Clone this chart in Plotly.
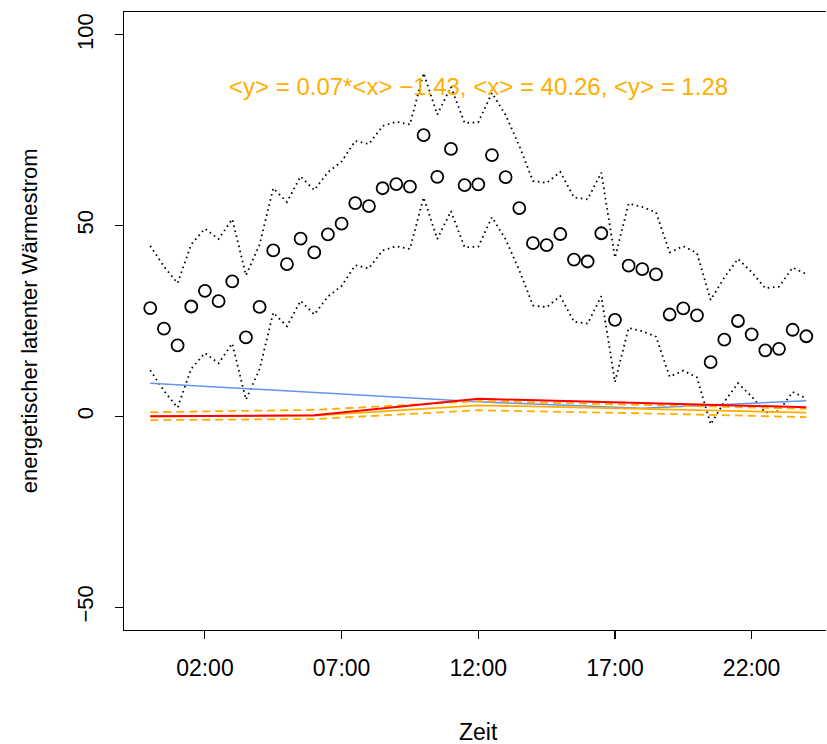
import plotly.graph_objects as go

# half-hour time steps (hours)
hours = [i * 0.5 for i in range(49)]

values = [28.4, 23.0, 18.6, 28.8, 32.9, 30.2, 35.4, 20.7, 28.7, 43.5, 39.9, 46.6, 43.0,
          47.7, 50.5, 55.9, 55.1, 59.8, 60.9, 60.2, 73.7, 62.8, 70.1, 60.6, 60.8, 68.5,
          62.7, 54.6, 45.4, 44.9, 47.8, 41.1, 40.6, 48.0, 25.3, 39.5, 38.6, 37.2, 26.7,
          28.3, 26.5, 14.2, 20.1, 25.0, 21.5, 17.3, 17.7, 22.7, 21.0]

upper = [44.7, 39.3, 34.9, 45.1, 49.2, 46.5, 51.7, 37.0, 45.0, 59.8, 56.2, 62.9, 59.3,
         64.0, 66.8, 72.2, 71.4, 76.1, 77.2, 76.5, 90.0, 79.1, 86.4, 76.9, 77.1, 84.8,
         79.0, 70.9, 61.7, 61.2, 64.1, 57.4, 56.9, 63.9, 41.6, 55.8, 54.9, 53.5, 43.0,
         44.6, 42.8, 30.5, 36.4, 41.3, 37.8, 33.6, 34.0, 39.0, 37.3]

lower = [12.1, 6.7, 2.3, 12.5, 16.6, 13.9, 19.1, 4.4, 12.4, 27.2, 23.6, 30.3, 26.7,
         31.4, 34.2, 39.6, 38.8, 43.5, 44.6, 43.9, 57.4, 46.5, 53.8, 44.3, 44.5, 52.2,
         46.4, 38.3, 29.1, 28.6, 31.5, 24.8, 24.3, 31.5, 9.0, 23.2, 22.3, 20.9, 10.4,
         12.0, 10.2, -2.1, 3.8, 8.7, 5.2, 1.0, 1.4, 6.4, 4.7]

# coarse model lines (6-hour nodes)
model_hours = [0, 6, 12, 18, 24]
blue_line = [8.7, 6.2, 3.8, 2.1, 4.1]
red_line = [0.0, 0.3, 4.6, 3.6, 2.4]
orange_mid = [0.0, 0.2, 2.9, 2.0, 1.0]
orange_hi = [1.1, 1.7, 4.0, 3.0, 2.0]
orange_lo = [-1.0, -0.7, 1.6, 0.8, -0.2]

tick_hours = [2, 7, 12, 17, 22]
tick_labels = ["02:00", "07:00", "12:00", "17:00", "22:00"]
y_ticks = [-50, 0, 50, 100]

annot_text = "<y> = 0.07*<x> \u22121.43, <x> = 40.26, <y> = 1.28"

ORANGE = "#FFAE00"
FONT = "Liberation Sans, Arial, Helvetica, sans-serif"

fig = go.Figure()

fig.add_trace(go.Scatter(x=hours, y=upper, mode="lines",
                         line=dict(color="black", width=1.8, dash="1.6px,3.6px")))
fig.add_trace(go.Scatter(x=hours, y=lower, mode="lines",
                         line=dict(color="black", width=1.8, dash="1.6px,3.6px")))

fig.add_trace(go.Scatter(x=model_hours, y=blue_line, mode="lines",
                         line=dict(color="#6495ED", width=1.5)))
fig.add_trace(go.Scatter(x=model_hours, y=orange_hi, mode="lines",
                         line=dict(color=ORANGE, width=1.8, dash="8px,5px")))
fig.add_trace(go.Scatter(x=model_hours, y=orange_lo, mode="lines",
                         line=dict(color=ORANGE, width=1.8, dash="8px,5px")))
fig.add_trace(go.Scatter(x=model_hours, y=orange_mid, mode="lines",
                         line=dict(color=ORANGE, width=1.8)))
fig.add_trace(go.Scatter(x=model_hours, y=red_line, mode="lines",
                         line=dict(color="#FF0000", width=2)))

fig.add_trace(go.Scatter(x=hours, y=values, mode="markers",
                         marker=dict(symbol="circle-open", size=12, color="black",
                                     line=dict(width=1.8, color="black"))))

fig.add_annotation(x=12, y=86.5, xref="x", yref="y", text=annot_text, showarrow=False,
                   font=dict(family=FONT, size=24, color=ORANGE))

fig.add_annotation(x=12, y=-0.165, xref="x", yref="paper", text="Zeit", showarrow=False,
                   yanchor="middle", borderpad=0,
                   font=dict(family=FONT, size=23, color="black"))
fig.add_annotation(x=-0.135, y=0.5, xref="paper", yref="paper",
                   text="energetischer latenter Wärmestrom", showarrow=False,
                   textangle=-90, xanchor="center", yanchor="middle",
                   font=dict(family=FONT, size=22, color="black"))

fig.update_layout(
    width=827, height=744,
    margin=dict(l=124, r=1, t=12, b=114),
    paper_bgcolor="white", plot_bgcolor="white",
    showlegend=False,
    font=dict(family=FONT, size=22, color="black"),
    hovermode=False,
)

fig.update_xaxes(range=[-0.96, 24.72], tickvals=tick_hours, ticktext=tick_labels,
                 showgrid=False, zeroline=False, showline=True, mirror=True,
                 linecolor="black", linewidth=1.3, ticks="outside", ticklen=8,
                 tickwidth=1.1, tickcolor="black", ticklabelstandoff=9,
                 tickfont=dict(family=FONT, size=23))
fig.update_yaxes(range=[-56.0, 106.0], tickvals=y_ticks,
                 showgrid=False, zeroline=False, showline=True, mirror=False,
                 linecolor="black", linewidth=1.3, ticks="outside", ticklen=8,
                 tickwidth=1.1, tickcolor="black", tickangle=-90, ticklabelstandoff=13,
                 tickfont=dict(family=FONT, size=22))

fig.write_html("out.html",
               config={"displayModeBar": False, "staticPlot": True},
               post_script="document.body.style.margin='0px';"
                           "document.body.style.overflow='hidden';")
